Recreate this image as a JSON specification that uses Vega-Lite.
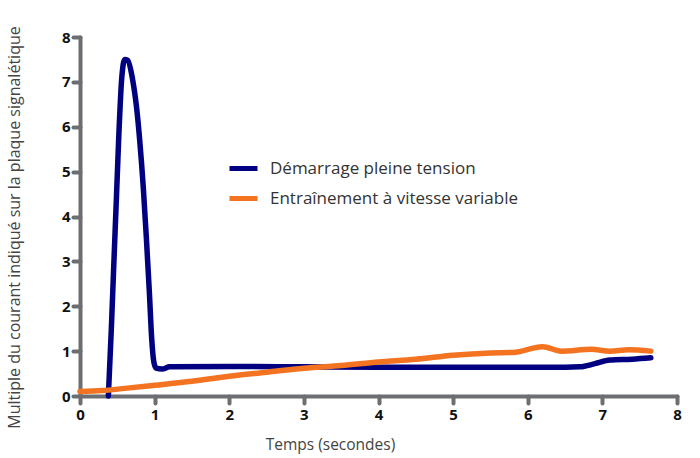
{
  "$schema": "https://vega.github.io/schema/vega-lite/v6.json",
  "width": 597,
  "height": 359,
  "autosize": {"type": "none"},
  "padding": {"left": 80, "top": 37, "right": 23, "bottom": 62},
  "background": "white",
  "config": {"view": {"stroke": null}, "font": "Open Sans"},
  "data": {"values": [
    {"s": "Démarrage pleine tension", "t": 0.38, "v": 0},
    {"s": "Démarrage pleine tension", "t": 0.42, "v": 1.5},
    {"s": "Démarrage pleine tension", "t": 0.45, "v": 2.8},
    {"s": "Démarrage pleine tension", "t": 0.49, "v": 4.5},
    {"s": "Démarrage pleine tension", "t": 0.52, "v": 5.8},
    {"s": "Démarrage pleine tension", "t": 0.56, "v": 7.1},
    {"s": "Démarrage pleine tension", "t": 0.6, "v": 7.5},
    {"s": "Démarrage pleine tension", "t": 0.64, "v": 7.48},
    {"s": "Démarrage pleine tension", "t": 0.7, "v": 7.1},
    {"s": "Démarrage pleine tension", "t": 0.76, "v": 6.4},
    {"s": "Démarrage pleine tension", "t": 0.8, "v": 5.7},
    {"s": "Démarrage pleine tension", "t": 0.85, "v": 4.6},
    {"s": "Démarrage pleine tension", "t": 0.89, "v": 3.5},
    {"s": "Démarrage pleine tension", "t": 0.93, "v": 2.3},
    {"s": "Démarrage pleine tension", "t": 0.96, "v": 1.3},
    {"s": "Démarrage pleine tension", "t": 0.99, "v": 0.75},
    {"s": "Démarrage pleine tension", "t": 1.02, "v": 0.62},
    {"s": "Démarrage pleine tension", "t": 1.1, "v": 0.6},
    {"s": "Démarrage pleine tension", "t": 1.2, "v": 0.65},
    {"s": "Démarrage pleine tension", "t": 2, "v": 0.66},
    {"s": "Démarrage pleine tension", "t": 3, "v": 0.65},
    {"s": "Démarrage pleine tension", "t": 4, "v": 0.64},
    {"s": "Démarrage pleine tension", "t": 5, "v": 0.64},
    {"s": "Démarrage pleine tension", "t": 6, "v": 0.64},
    {"s": "Démarrage pleine tension", "t": 6.5, "v": 0.64},
    {"s": "Démarrage pleine tension", "t": 6.7, "v": 0.65},
    {"s": "Démarrage pleine tension", "t": 6.9, "v": 0.72},
    {"s": "Démarrage pleine tension", "t": 7.1, "v": 0.8},
    {"s": "Démarrage pleine tension", "t": 7.4, "v": 0.82},
    {"s": "Démarrage pleine tension", "t": 7.65, "v": 0.85},
    {"s": "Entraînement à vitesse variable", "t": 0, "v": 0.1},
    {"s": "Entraînement à vitesse variable", "t": 0.3, "v": 0.12},
    {"s": "Entraînement à vitesse variable", "t": 0.6, "v": 0.17},
    {"s": "Entraînement à vitesse variable", "t": 1, "v": 0.24},
    {"s": "Entraînement à vitesse variable", "t": 1.5, "v": 0.33},
    {"s": "Entraînement à vitesse variable", "t": 2, "v": 0.44},
    {"s": "Entraînement à vitesse variable", "t": 2.5, "v": 0.53},
    {"s": "Entraînement à vitesse variable", "t": 3, "v": 0.62},
    {"s": "Entraînement à vitesse variable", "t": 3.5, "v": 0.68},
    {"s": "Entraînement à vitesse variable", "t": 4, "v": 0.76},
    {"s": "Entraînement à vitesse variable", "t": 4.5, "v": 0.82},
    {"s": "Entraînement à vitesse variable", "t": 5, "v": 0.91},
    {"s": "Entraînement à vitesse variable", "t": 5.5, "v": 0.96},
    {"s": "Entraînement à vitesse variable", "t": 5.8, "v": 0.97},
    {"s": "Entraînement à vitesse variable", "t": 6.2, "v": 1.1},
    {"s": "Entraînement à vitesse variable", "t": 6.45, "v": 1.0},
    {"s": "Entraînement à vitesse variable", "t": 6.85, "v": 1.04},
    {"s": "Entraînement à vitesse variable", "t": 7.1, "v": 1.0},
    {"s": "Entraînement à vitesse variable", "t": 7.35, "v": 1.03},
    {"s": "Entraînement à vitesse variable", "t": 7.65, "v": 1.0}
  ]},
  "mark": {"type": "line", "strokeWidth": 5.5, "interpolate": "monotone", "strokeCap": "round", "strokeJoin": "round"},
  "encoding": {
    "x": {"field": "t", "type": "quantitative", "scale": {"domain": [0, 8], "nice": false},
      "axis": {"title": "Temps (secondes)", "values": [0,1,2,3,4,5,6,7,8], "grid": false,
        "domainColor": "#6d6e71", "domainWidth": 4, "domainCap": "round", "tickColor": "#6d6e71", "tickWidth": 4, "tickCap": "round", "tickSize": 7,
        "labelFont": "Open Sans", "labelFontSize": 15, "labelFontWeight": "bold", "labelColor": "#111", "labelPadding": 4, "labelFlush": false,
        "titleFont": "Open Sans", "titleFontSize": 15.5, "titleFontWeight": "normal", "titleColor": "#444", "titleX": 250, "titleY": 53, "titleBaseline": "alphabetic"}},
    "y": {"field": "v", "type": "quantitative", "scale": {"domain": [0, 8], "nice": false},
      "axis": {"title": "Multiple du courant indiqué sur la plaque signalétique", "values": [0,1,2,3,4,5,6,7,8], "grid": false,
        "domainColor": "#6d6e71", "domainWidth": 4, "domainCap": "round", "tickColor": "#6d6e71", "tickWidth": 4, "tickCap": "round", "tickSize": 7,
        "labelFont": "Open Sans", "labelFontSize": 15, "labelFontWeight": "bold", "labelColor": "#111", "labelPadding": 3, "labelFlush": false,
        "titleFont": "Open Sans", "titleFontSize": 16, "titleFontWeight": "normal", "titleColor": "#444", "titleX": -58, "titleY": 190}},
    "color": {"field": "s", "type": "nominal",
      "scale": {"domain": ["Démarrage pleine tension", "Entraînement à vitesse variable"], "range": ["#000080", "#f47321"]},
      "legend": {"title": null, "orient": "none", "legendX": 147, "legendY": 115, "symbolType": "stroke", "symbolSize": 784, "symbolStrokeWidth": 5,
        "labelFont": "Open Sans", "labelFontSize": 17, "labelColor": "#333", "labelLimit": 400, "rowPadding": 3, "labelOffset": 10}}
  }
}
